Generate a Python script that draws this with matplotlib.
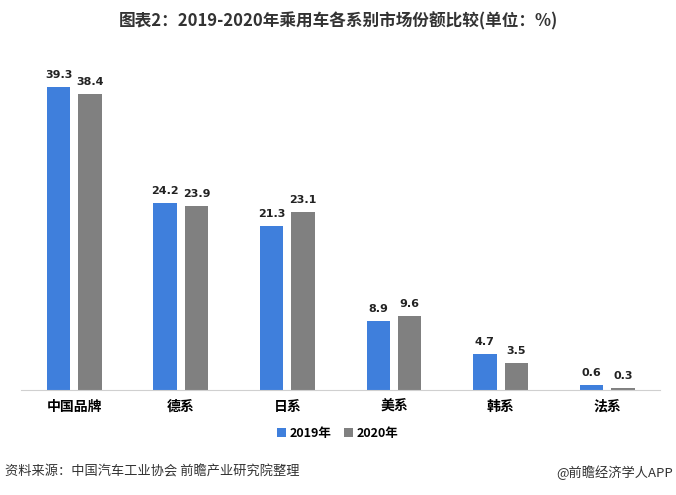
import matplotlib
matplotlib.use("Agg")
import numpy as np
import matplotlib.pyplot as plt

plt.rcParams['font.family'] = ['Noto Sans CJK SC', 'DejaVu Sans']

categories = ["中国品牌", "德系", "日系", "美系", "韩系", "法系"]
share_2019 = [39.3, 24.2, 21.3, 8.9, 4.7, 0.6]
share_2020 = [38.4, 23.9, 23.1, 9.6, 3.5, 0.3]
series_names = ["2019年", "2020年"]

c2019 = "#3f7fdc"
c2020 = "#808080"

fig = plt.figure(figsize=(6.76, 4.95), dpi=100)
ax = fig.add_axes([0.031, 0.212, 0.946, 0.667])

x = np.arange(len(categories))
w = 0.22
off = 0.147
b1 = ax.bar(x - off, share_2019, w, color=c2019, label=series_names[0])
b2 = ax.bar(x + off, share_2020, w, color=c2020, label=series_names[1])

# value labels above each bar
for bars in (b1, b2):
    for rect in bars:
        v = rect.get_height()
        ax.text(rect.get_x() + rect.get_width() / 2, v + 0.9, f"{v:.1f}",
                ha="center", va="bottom", fontsize=8, fontweight="bold",
                color="#222222", family=["DejaVu Sans"])

ax.set_xlim(-0.5, len(categories) - 0.5)
ax.set_ylim(0, 42.8)
ax.set_yticks([])
ax.set_xticks(x)
ax.set_xticklabels(categories, fontsize=10, fontweight="bold")
ax.tick_params(axis="x", length=0, pad=7)
for s in ["top", "right", "left"]:
    ax.spines[s].set_visible(False)
ax.spines["bottom"].set_color("#d0d0d0")

fig.text(0.5, 0.958, "图表2：2019-2020年乘用车各系别市场份额比较(单位：%)",
         ha="center", va="center", fontsize=12, fontweight="bold", color="#333333")

fig.legend(handles=[b1, b2], labels=series_names, loc="center",
           bbox_to_anchor=(0.5, 0.125), ncol=2, frameon=False,
           handlelength=0.7, handleheight=0.7, handletextpad=0.3, columnspacing=1.0,
           prop={"weight": "bold", "size": 9})

fig.text(0.008, 0.046, "资料来源：中国汽车工业协会 前瞻产业研究院整理",
         ha="left", va="center", fontsize=9.5, color="#333333")
fig.text(0.995, 0.046, "@前瞻经济学人APP",
         ha="right", va="center", fontsize=9.5, color="#333333")

fig.savefig("out.png", dpi=100)
